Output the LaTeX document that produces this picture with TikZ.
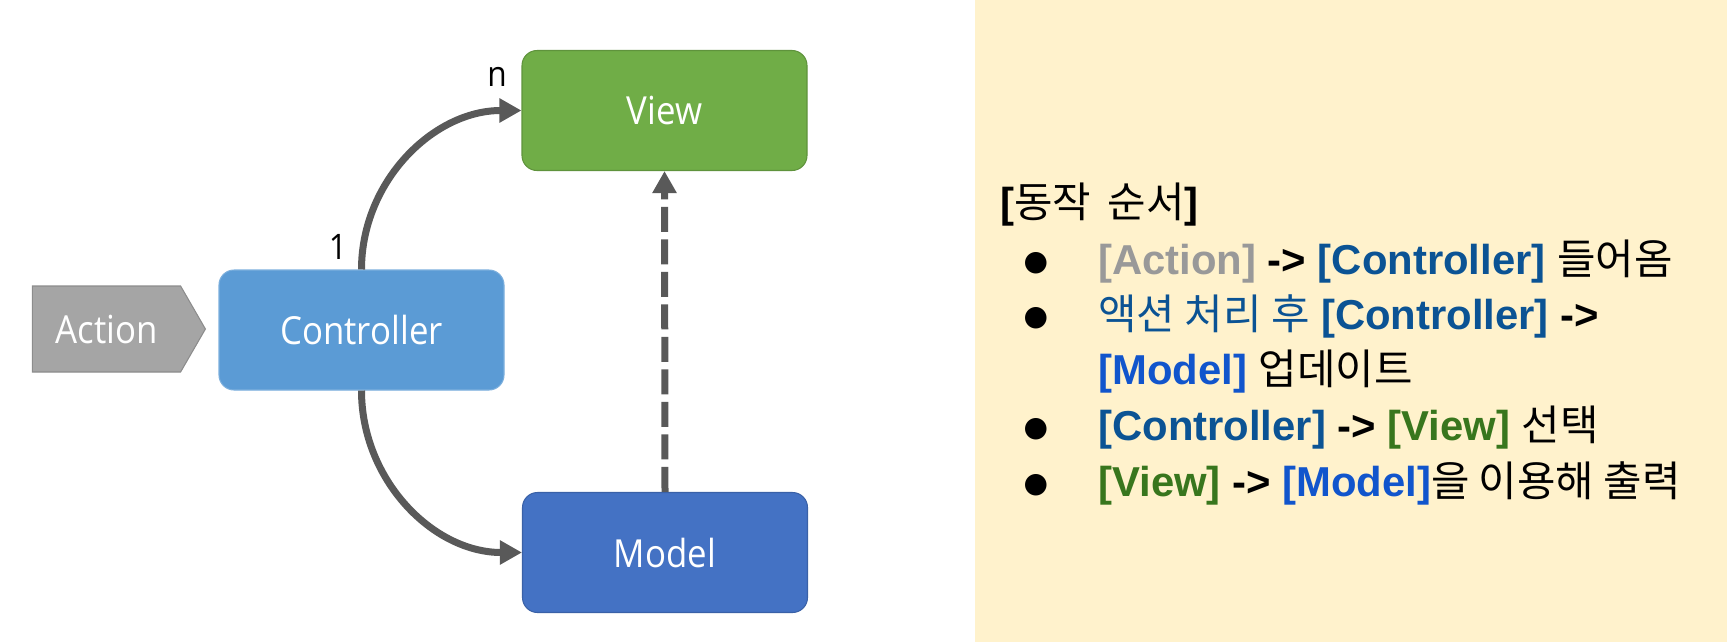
\documentclass[tikz,border=0pt]{standalone}
\usepackage{fontspec}
\setmainfont{Liberation Sans}
\newfontfamily\krfont{Noto Sans CJK KR}
\newfontfamily\diagfont[FakeStretch=0.9]{Open Sans}
\newfontfamily\dotfont{DejaVu Sans}
\usepackage{xcolor}
\usepackage{tikz}
\usetikzlibrary{arrows.meta,positioning,shapes.symbols}

\definecolor{viewgreen}{HTML}{70AD47}
\definecolor{ctrlblue}{HTML}{5B9BD5}
\definecolor{modelblue}{HTML}{4472C4}
\definecolor{actgray}{HTML}{A5A5A5}
\definecolor{arrowgray}{HTML}{595959}
\definecolor{panelbg}{HTML}{FFF2CC}
\definecolor{txtgray}{HTML}{999999}
\definecolor{txtctrl}{HTML}{0B5394}
\definecolor{txtmodel}{HTML}{1155CC}
\definecolor{txtview}{HTML}{38761D}

\begin{document}
\begin{tikzpicture}[
    box/.style={rectangle, rounded corners=0.3cm, minimum width=5.7cm, minimum height=2.4cm, align=center, text=white, line width=0.6pt, font=\diagfont\fontsize{22}{26}\selectfont},
    act/.style={signal, signal to=east, signal pointer angle=120, minimum width=3.46cm, minimum height=1.72cm, fill=actgray, draw=actgray!85!black, line width=0.6pt, text=white, font=\diagfont\fontsize{22}{26}\selectfont},
    lbl/.style={inner sep=0pt, font=\diagfont\fontsize{20}{24}\selectfont},
    arrow/.style={-{Triangle[length=0.44cm, width=0.46cm]}, line width=0.14cm, draw=arrowgray},
    dashed arrow/.style={arrow, dash pattern=on 0.5cm off 0.15cm},
    item/.style={anchor=base west, inner sep=0pt, font=\fontsize{23.8}{28}\selectfont\bfseries},
    dot/.style={inner sep=0pt, font=\dotfont\fontsize{16}{16}\selectfont}
]
\useasboundingbox (0,0) rectangle (34.54,-12.84);

% Right-side note panel
\fill[panelbg] (19.5,0) rectangle (34.54,-12.84);

% MVC boxes
\node[box, fill=viewgreen, draw=viewgreen!85!black] (view) at (13.29,-2.21) {View};
\node[box, fill=ctrlblue, draw=ctrlblue!80!white] (ctrl) at (7.23,-6.60) {Controller};
\node[box, fill=modelblue, draw=modelblue!85!black] (model) at (13.30,-11.05) {Model};
\node[act] (action) at (2.13,-6.58) {Action};

% Arrows
\draw[arrow] (ctrl.north) to[out=90, in=180] (view.west);
\draw[arrow] (ctrl.south) to[out=-90, in=180] (model.west);
\draw[dashed arrow] (model.north) -- (view.south);

% Multiplicity labels
\node[lbl] (lblone) at ([xshift=-0.47cm, yshift=0.45cm]ctrl.north) {1};
\node[lbl] (lbln) at ([xshift=-0.49cm, yshift=0.67cm]view.west) {n};

% Order of operations
\node[item] (head) at (20.0,-4.34) {[{\krfont\mdseries 동작\, 순서}]};
\node[dot] (dot1) at (20.72,-5.26) {●};
\node[dot] (dot2) at (20.72,-6.36) {●};
\node[dot] (dot3) at (20.72,-8.58) {●};
\node[dot] (dot4) at (20.72,-9.70) {●};
\node[item] (line1) at (21.96,-5.48) {\textcolor{txtgray}{[Action]} -> \textcolor{txtctrl}{[Controller]} {\krfont\mdseries 들어옴}};
\node[item] (line2) at (21.96,-6.58) {\textcolor{txtctrl}{{\krfont\mdseries 액션 처리 후} [Controller]} ->};
\node[item] (line3) at (21.96,-7.68) {\textcolor{txtmodel}{[Model]} {\krfont\mdseries 업데이트}};
\node[item] (line4) at (21.96,-8.80) {\textcolor{txtctrl}{[Controller]} -> \textcolor{txtview}{[View]} {\krfont\mdseries 선택}};
\node[item] (line5) at (21.96,-9.92) {\textcolor{txtview}{[View]} -> \textcolor{txtmodel}{[Model]}{\krfont\mdseries 을 이용해 출력}};
\end{tikzpicture}
\end{document}
